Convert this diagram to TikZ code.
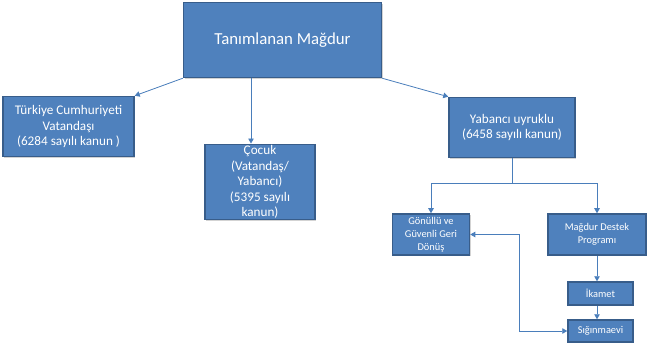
\documentclass[tikz,border=0pt]{standalone}
\usepackage{fontspec}
\setmainfont{Carlito}
\usepackage{tikz}
\usetikzlibrary{positioning,shadows,arrows.meta}
\definecolor{boxfill}{HTML}{4F81BD}
\definecolor{boxline}{HTML}{385D8A}
\definecolor{wire}{HTML}{4A7EBB}

\begin{document}
\begin{tikzpicture}[-{Triangle[length = 5pt, width = 5.5pt]}, x = 1pt, y = -1pt,
                    wire/.style = {draw = wire, line width = 0.8pt},
                    box/.style  = {rectangle,
                                   fill = boxfill,
                                   draw = boxline,
                                   line width = 1.5pt,
                                   text = white,
                                   align = center,
                                   inner sep = 1pt,
                                   drop shadow = {shadow xshift = 1.2pt,
                                                  shadow yshift = -1.2pt,
                                                  opacity = 0.35}},
                    big/.style   = {box, font = \fontsize{16.8}{20}\selectfont},
                    mid/.style   = {box, font = \fontsize{13.2}{15.6}\selectfont},
                    small/.style = {box, font = \fontsize{10.4}{12.8}\selectfont}]

\useasboundingbox (0,0) rectangle (647,347);

\node[big, minimum width = 198pt, minimum height = 75pt]
     (top) at (282.5,40) {Tanımlanan Mağdur};

\node[mid, minimum width = 131pt, minimum height = 60pt]
     (turk) at (68.5,126.5) {Türkiye Cumhuriyeti\\Vatandaşı\\(6284 sayılı kanun )};
\node[mid, minimum width = 110pt, minimum height = 69pt]
     (cocuk) at (260,182) {Çocuk\\(Vatandaş/\\Yabancı)\\(5395 sayılı\\kanun)};
\node[mid, minimum width = 126pt, minimum height = 60pt]
     (yab) at (512,127.5) {Yabancı uyruklu\\(6458 sayılı kanun)};

\node[small, minimum width = 77pt, minimum height = 41pt]
     (gon) at (431,234.5) {Gönüllü ve\\Güvenli Geri\\Dönüş};
\node[small, minimum width = 98pt, minimum height = 41pt]
     (destek) at (597,234.5) {Mağdur Destek\\Programı};
\node[small, minimum width = 65pt, minimum height = 23pt]
     (ikamet) at (600.5,293.5) {İkamet};
\node[small, minimum width = 65pt, minimum height = 22pt]
     (sig) at (600.5,331) {Sığınmaevi};

% first level
\draw[wire] (top.south west) -- (turk.north east);
\draw[wire] ([xshift = -9pt]cocuk.north |- top.south) -- ([xshift = -9pt]cocuk.north);
\draw[wire] (top.south east) -- (yab.north west);

% foreign nationals
\draw[wire, -] (yab.south) -- ++(0,25) coordinate (split);
\draw[wire] (split) -| (gon.north);
\draw[wire] (split) -| (destek.north);

% support programme
\draw[wire] (destek.south) -- (destek.south |- ikamet.north);
\draw[wire] (destek.south |- ikamet.south) -- (destek.south |- sig.north);
\draw[wire, {Triangle[length = 5pt, width = 5.5pt]}-{Triangle[length = 5pt, width = 5.5pt]}]
     (gon.east) -- ++(49,0) |- (sig.west);

\end{tikzpicture}
\end{document}
